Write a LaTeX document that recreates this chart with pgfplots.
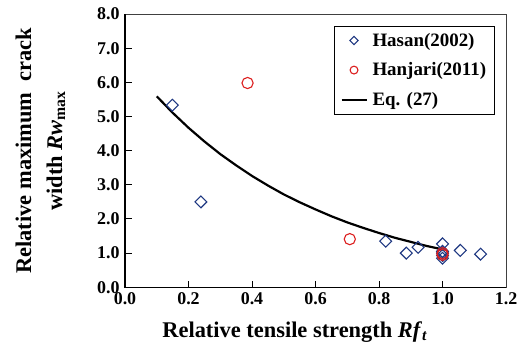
\documentclass[border=0pt]{standalone}
\usepackage{fontspec}
\setmainfont{Liberation Serif}
\usepackage{pgfplots}
\pgfplotsset{compat=1.18}
\definecolor{hasanblue}{RGB}{31,56,130}
\definecolor{hanjarired}{RGB}{220,30,30}
% legend images: small marks centred in a 25bp wide slot, line spanning it
\pgfplotsset{
  markleg/.style={legend image code/.code={%
    \path[draw=none] (0bp,0bp) -- (29bp,0bp);
    \draw[##1, only marks, every mark/.append style={scale=0.7}] plot coordinates {(12.5bp,0bp)};}},
  lineleg/.style={legend image code/.code={%
    \path[draw=none] (0bp,0bp) -- (29bp,0bp);
    \draw[##1] (0bp,0bp) -- (25bp,0bp);}},
}

\begin{document}
\begin{tikzpicture}[x=1bp,y=1bp]
\path[use as bounding box] (0,0) rectangle (518,356);
\begin{axis}[
  at={(125bp,68.7bp)}, anchor=south west,
  scale only axis, width=381bp, height=273.3bp,
  xmin=0, xmax=1.2, ymin=0, ymax=8,
  xtick={0,0.2,0.4,0.6,0.8,1.0,1.2},
  ytick={0,1,2,3,4,5,6,7,8},
  xtick pos=left, ytick pos=left,
  tick align=inside,
  major tick length=6.5bp,
  tick style={black, line width=1pt},
  axis line style={black!75, line width=0.8pt},
  ticklabel style={font=\fontsize{18}{18}\selectfont\bfseries},
  /pgf/number format/.cd, fixed, fixed zerofill, precision=1, assume math mode=true,
  /pgfplots/.cd,
  xticklabel style={yshift=-2bp},
  yticklabel style={xshift=-2bp},
  xlabel={Relative tensile strength \textit{Rf}\textsubscript{\textit{t}}},
  xlabel style={font=\fontsize{22.5}{22.5}\selectfont\bfseries, at={(axis description cs:0.446,-0.165)}, anchor=center},
  ylabel={Relative maximum\ \ crack\\width \textit{Rw}\textsubscript{max}},
  ylabel style={font=\fontsize{22.5}{31}\selectfont\bfseries, align=center, at={(axis description cs:-0.222,0.5)}, anchor=center},
  legend style={at={(axis description cs:0.5486,0.957)}, anchor=north west,
    draw=black, line width=0.8pt, font=\fontsize{19}{19}\selectfont\bfseries,
    inner xsep=6bp, inner ysep=5bp, row sep=11bp, legend cell align=left},
  clip=false,
]
% frame: thick left and bottom axis lines
\draw[black, line width=1.6pt] (rel axis cs:0,1) -- (rel axis cs:0,0) -- (rel axis cs:1,0);

% Hasan (2002)
\addplot[only marks, mark=square, mark size=4.2bp, mark options={rotate=45, draw=hasanblue, line width=1.1pt}, markleg]
coordinates {
(0.149,5.33) (0.239,2.50) (0.821,1.35) (0.886,1.00) (0.923,1.17)
(1.000,1.27) (1.000,1.05) (1.000,1.00) (1.000,0.93) (1.000,0.85)
(1.056,1.08) (1.120,0.97)
};
\addlegendentry{Hasan(2002)}

% Hanjari (2011)
\addplot[only marks, mark=o, mark size=5.6bp, mark options={draw=hanjarired, line width=1.1pt}, markleg]
coordinates {
(0.386,5.98) (0.708,1.41) (1.000,1.00) (1.000,0.95)
};
\addlegendentry{Hanjari(2011)}

% Eq. (27)
\addplot[black, line width=2.2pt, mark=none, lineleg]
coordinates {
(0.10,5.59) (0.15,5.11) (0.20,4.67) (0.25,4.27) (0.30,3.90) (0.35,3.57)
(0.40,3.26) (0.45,2.98) (0.50,2.72) (0.55,2.49) (0.60,2.28) (0.65,2.08)
(0.70,1.90) (0.75,1.74) (0.80,1.59) (0.85,1.45) (0.90,1.33) (0.95,1.21)
(1.00,1.11)
};
\addlegendentry{Eq. (27)}
\end{axis}
\end{tikzpicture}
\end{document}
